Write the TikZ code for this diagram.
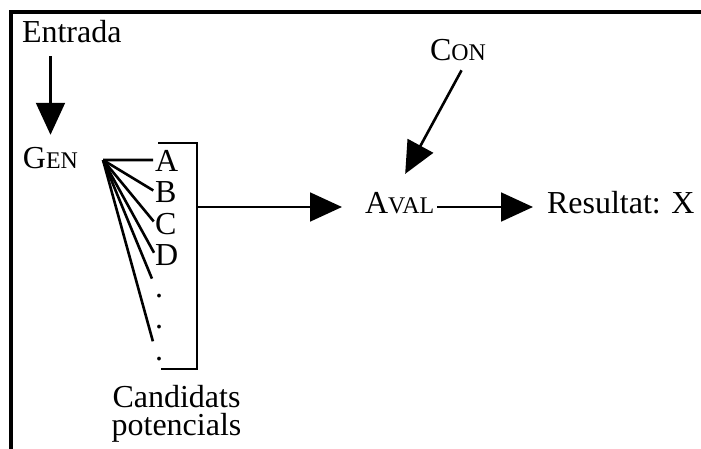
\documentclass[tikz,border=0pt]{standalone}
\usepackage{fontspec}
\setmainfont{Liberation Serif}
\usepackage{tikz}
\usetikzlibrary{arrows.meta}

\newcommand{\smcap}[2]{#1{\fontsize{17}{17}\selectfont #2}}

\tikzset{
  txt/.style={font=\fontsize{22.76}{20.6}\selectfont, inner sep=0pt, outer sep=0pt},
  cand/.style={txt, anchor=base west, text height=0.55cm, text depth=0pt},
  fletxa/.style={line width=0.065cm, -{Triangle[length=0.8cm,width=0.72cm]}},
  linia/.style={line width=0.065cm}
}

\begin{document}
\begin{tikzpicture}
        \useasboundingbox (0,0) rectangle (17.525,-11.2);
        \draw[line width=0.1cm] (0.2675,-11.3) -- (0.2675,-0.3) -- (17.6,-0.3);

        \node[txt, anchor=base west] (entrada) at (0.55,-1.05) {Entrada};
        \node[txt, anchor=base west] (gen) at (0.575,-4.2) {\smcap{G}{EN}};
        \draw[fletxa, shorten <=0.35cm, shorten >=0.3cm] (entrada.south -| gen.north) -- (gen.north);

        %=== Candidats ===
        \coordinate (fan) at (2.575,-4.0);
        \foreach \y/\name/\text in {-4.275/a/A, -5.0625/b/B, -5.85/c/C, -6.6375/d/D, -7.425/e/., -8.2125/f/., -9.0/g/.}
            \node[cand] (\name) at (3.875,\y) {\text};

        \foreach \name in {a,b,c,d}
            \draw[linia, shorten >=0.05cm] (fan) -- (\name.west);
        \draw[linia, shorten >=0.2cm] (fan) -- (e.west);
        \draw[linia, shorten >=0.2cm] (fan) -- (g.west);

        \draw[linia] (3.95,-3.575) -| (4.925,-9.225) -- (4.025,-9.225);
        \coordinate (out) at (4.925,-5.175);

        \node[txt, align=center, anchor=north] (pot) at (4.4125,-9.62) {Candidats\\potencials};

        %=== Avaluacio ===
        \node[txt, anchor=base west] (aval) at (9.125,-5.325) {\smcap{A}{VAL}};
        \node[txt, anchor=base west] (res) at (13.675,-5.325) {Resultat: X};
        \node[txt, anchor=base west] (con) at (10.75,-1.5) {\smcap{C}{ON}};

        \draw[fletxa, shorten >=0.575cm] (out) -- (out -| aval.west);
        \draw[fletxa, shorten <=0.08cm, shorten >=0.35cm] (out -| aval.east) -- (out -| res.west);
        \draw[fletxa] ([xshift=0.09cm,yshift=-0.25cm]con.south) -- ([xshift=0.14cm,yshift=0.45cm]aval.north);
\end{tikzpicture}
\end{document}
